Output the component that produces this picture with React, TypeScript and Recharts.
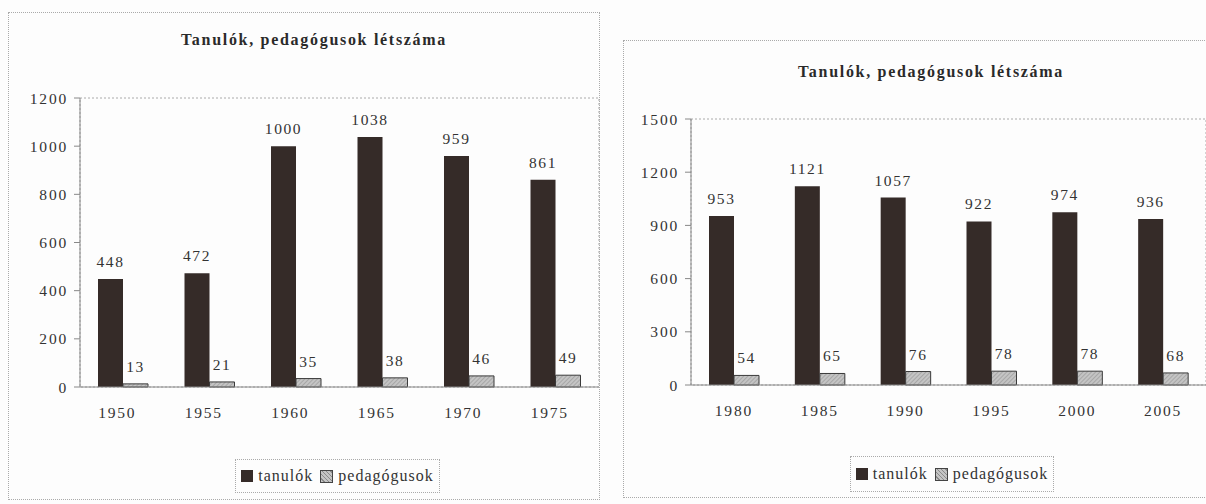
import React from 'react';
import { BarChart, Bar, XAxis, YAxis, LabelList, ReferenceArea } from 'recharts';

const title = 'Tanulók, pedagógusok létszáma';
const seriesNames = ['tanulók', 'pedagógusok'];

const years1 = ['1950', '1955', '1960', '1965', '1970', '1975'];
const students1 = [448, 472, 1000, 1038, 959, 861];
const teachers1 = [13, 21, 35, 38, 46, 49];
const ticks1 = [0, 200, 400, 600, 800, 1000, 1200];

const years2 = ['1980', '1985', '1990', '1995', '2000', '2005'];
const students2 = [953, 1121, 1057, 922, 974, 936];
const teachers2 = [54, 65, 76, 78, 78, 68];
const ticks2 = [0, 300, 600, 900, 1200, 1500];

const FONT = '"Liberation Serif", "DejaVu Serif", serif';
const TEXT = '#333';
const DARK = '#352b28';

type PanelProps = {
  id: string;
  years: string[];
  students: number[];
  teachers: number[];
  ticks: number[];
  left: number;
  width: number;
  margin: { top: number; right: number; bottom: number; left: number };
  frame: { left: number; top: number; width: number; height: number };
  titlePos: { x: number; y: number };
  legendPos: { x: number; y: number; w: number; h: number };
  xdx: number;
};

function Panel(p: PanelProps) {
  const data = p.years.map((y, i) => ({ year: y, tanulok: p.students[i], pedagogusok: p.teachers[i] }));
  const maxTick = p.ticks[p.ticks.length - 1];
  const labelProps = { fill: TEXT, fontSize: 15.5, fontFamily: FONT, letterSpacing: 1.6 } as any;
  const tickStyle = { fill: TEXT, fontSize: 15.5, fontFamily: FONT, letterSpacing: 1.8 } as any;
  return (
    <>
      <div
        style={{
          position: 'absolute',
          left: p.frame.left,
          top: p.frame.top,
          width: p.frame.width,
          height: p.frame.height,
          border: '1px dotted #aaa',
          boxSizing: 'border-box',
        }}
      />
      <div
        style={{
          position: 'absolute',
          left: p.titlePos.x - 200,
          width: 400,
          top: p.titlePos.y - 11,
          textAlign: 'center',
          fontFamily: FONT,
          fontWeight: 'bold',
          fontSize: 16,
          letterSpacing: 1.7,
          color: '#2a2a2a',
          lineHeight: '22px',
        }}
      >
        {title}
      </div>
      <div style={{ position: 'absolute', left: p.left, top: 0 }}>
        <BarChart width={p.width} height={504} data={data} margin={p.margin} barGap={0} barSize={25}>
          <defs>
            <pattern id={p.id} width="3" height="3" patternUnits="userSpaceOnUse" patternTransform="rotate(45)">
              <rect width="3" height="3" fill="#c4c4c4" />
              <line x1="0" y1="0" x2="0" y2="3" stroke="#8a8a8a" strokeWidth="1" />
            </pattern>
          </defs>
          <ReferenceArea y1={0} y2={maxTick} fill="none" stroke="#aaa" strokeDasharray="2 2" ifOverflow="visible" />
          <XAxis
            dataKey="year"
            height={30}
            tickLine={false}
            tickSize={0}
            tickMargin={20}
            dx={p.xdx}
            axisLine={{ stroke: '#888' }}
            tick={tickStyle}
          />
          <YAxis
            width={60}
            domain={[0, maxTick]}
            ticks={p.ticks}
            interval={0}
            tickSize={6}
            tickMargin={6}
            axisLine={{ stroke: '#888' }}
            tickLine={{ stroke: '#888' }}
            tick={tickStyle}
          />
          <Bar dataKey="tanulok" name={seriesNames[0]} fill={DARK} isAnimationActive={false}>
            <LabelList dataKey="tanulok" position="top" offset={12} {...labelProps} />
          </Bar>
          <Bar
            dataKey="pedagogusok"
            name={seriesNames[1]}
            fill={`url(#${p.id})`}
            stroke="#3a3a3a"
            strokeWidth={1}
            isAnimationActive={false}
          >
            <LabelList dataKey="pedagogusok" position="top" offset={12} {...labelProps} />
          </Bar>
        </BarChart>
      </div>
      <div
        style={{
          position: 'absolute',
          left: p.legendPos.x,
          top: p.legendPos.y,
          width: p.legendPos.w,
          height: p.legendPos.h,
          border: '1px dotted #aaa',
          boxSizing: 'border-box',
          display: 'flex',
          alignItems: 'center',
          justifyContent: 'center',
          fontFamily: FONT,
          fontSize: 16,
          letterSpacing: 1,
          color: TEXT,
        }}
      >
        <span style={{ display: 'inline-block', width: 12, height: 12, background: DARK, marginRight: 5 }} />
        <span>{seriesNames[0]}</span>
        <span
          style={{
            display: 'inline-block',
            width: 11,
            height: 11,
            marginLeft: 7,
            marginRight: 5,
            border: '1px solid #444',
            background: 'repeating-linear-gradient(45deg, #c4c4c4 0px, #c4c4c4 2px, #8a8a8a 2px, #8a8a8a 3px)',
          }}
        />
        <span>{seriesNames[1]}</span>
      </div>
    </>
  );
}

export default function App() {
  return (
    <div
      style={{
        position: 'absolute',
        left: 0,
        top: 0,
        width: 1206,
        height: 504,
        overflow: 'hidden',
        background: '#fdfdfd',
      }}
    >
      <Panel
        id="hatchA"
        years={years1}
        students={students1}
        teachers={teachers1}
        ticks={ticks1}
        left={0}
        width={600}
        margin={{ top: 98, right: 1, bottom: 87, left: 20 }}
        frame={{ left: 8, top: 12, width: 592, height: 488 }}
        titlePos={{ x: 314, y: 40 }}
        legendPos={{ x: 235, y: 459, w: 205, h: 34 }}
        xdx={-6}
      />
      <Panel
        id="hatchB"
        years={years2}
        students={students2}
        teachers={teachers2}
        ticks={ticks2}
        left={610}
        width={596}
        margin={{ top: 119, right: 0, bottom: 89, left: 21 }}
        frame={{ left: 623, top: 40, width: 600, height: 458 }}
        titlePos={{ x: 931, y: 72 }}
        legendPos={{ x: 850, y: 456, w: 204, h: 36 }}
        xdx={0}
      />
    </div>
  );
}
